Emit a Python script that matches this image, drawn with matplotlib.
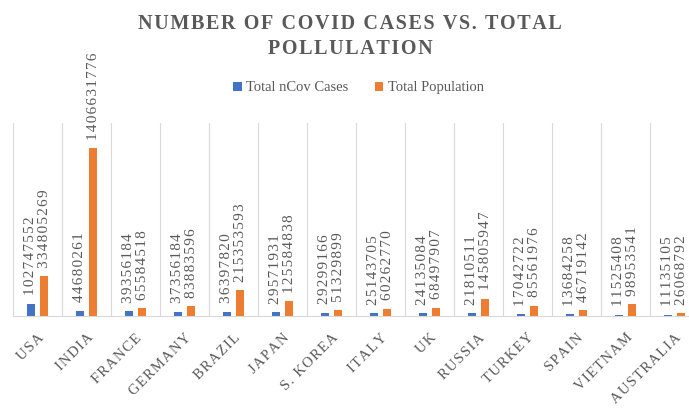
import matplotlib.pyplot as plt
import numpy as np

countries = ["USA", "INDIA", "FRANCE", "GERMANY", "BRAZIL", "JAPAN", "S. KOREA",
             "ITALY", "UK", "RUSSIA", "TURKEY", "SPAIN", "VIETNAM", "AUSTRALIA"]
cases = [102747552, 44680261, 39356184, 37356184, 36397820, 29571931, 29299166,
         25143705, 24135084, 21810511, 17042722, 13684258, 11525408, 11135105]
population = [334805269, 1406631776, 65584518, 83883596, 215353593, 125584838,
              51329899, 60262770, 68497907, 145805947, 85561976, 46719142,
              98953541, 26068792]

blue = "#4472C4"
orange = "#ED7D31"
grey = "#595959"
serif = ["Liberation Serif", "DejaVu Serif"]


def spaced(s, gap="\u200a"):
    # fake letter spacing like the office chart
    return gap.join(s)


fig = plt.figure(figsize=(6.89, 4.13), dpi=100)
ax = fig.add_axes([13 / 689, 97 / 413, 686 / 689, 193 / 413])

x = np.arange(len(countries))
w = 0.15
off = 0.135
b1 = ax.bar(x - off, cases, w, color=blue, label="Total nCov Cases")
b2 = ax.bar(x + off, population, w, color=orange, label="Total Population")

for bars, vals in ((b1, cases), (b2, population)):
    for rect, v in zip(bars, vals):
        ax.annotate(spaced(str(v)), (rect.get_x() + rect.get_width() / 2, v),
                    xytext=(0, 6), textcoords="offset points",
                    rotation=90, ha="center", va="bottom",
                    fontsize=11, color=grey, family=serif)

ax.set_xlim(-0.5, len(countries) - 0.5)
ax.set_ylim(0, 1.616e9)
ax.set_yticks([])
ax.set_xticks(x)
ax.set_xticklabels([spaced(c) for c in countries], rotation=45, ha="right",
                   rotation_mode="anchor", fontsize=10.5, color=grey, family=serif)
ax.set_xticks(np.arange(-0.5, len(countries), 1), minor=True)
ax.tick_params(axis="x", which="major", length=0, pad=11)
ax.tick_params(axis="x", which="minor", length=0)
ax.grid(axis="x", which="minor", color="#d9d9d9", linewidth=0.8)
for s in ["top", "right", "left"]:
    ax.spines[s].set_visible(False)
ax.spines["bottom"].set_color("#d9d9d9")

fig.text(0.508, 0.967,
         spaced("NUMBER OF COVID CASES VS. TOTAL") + "\n"
         + spaced("POLLULATION"),
         ha="center", va="top", fontsize=14.5, fontweight="bold", color=grey,
         family=serif, linespacing=1.35)
fig.legend(loc="center", bbox_to_anchor=(0.52, 0.787), ncol=2, frameon=False,
           prop={"family": serif, "size": 10.5}, labelcolor=grey,
           handlelength=0.6, handleheight=0.6, handletextpad=0.3,
           columnspacing=1.8)

fig.savefig("out.png", dpi=100)
